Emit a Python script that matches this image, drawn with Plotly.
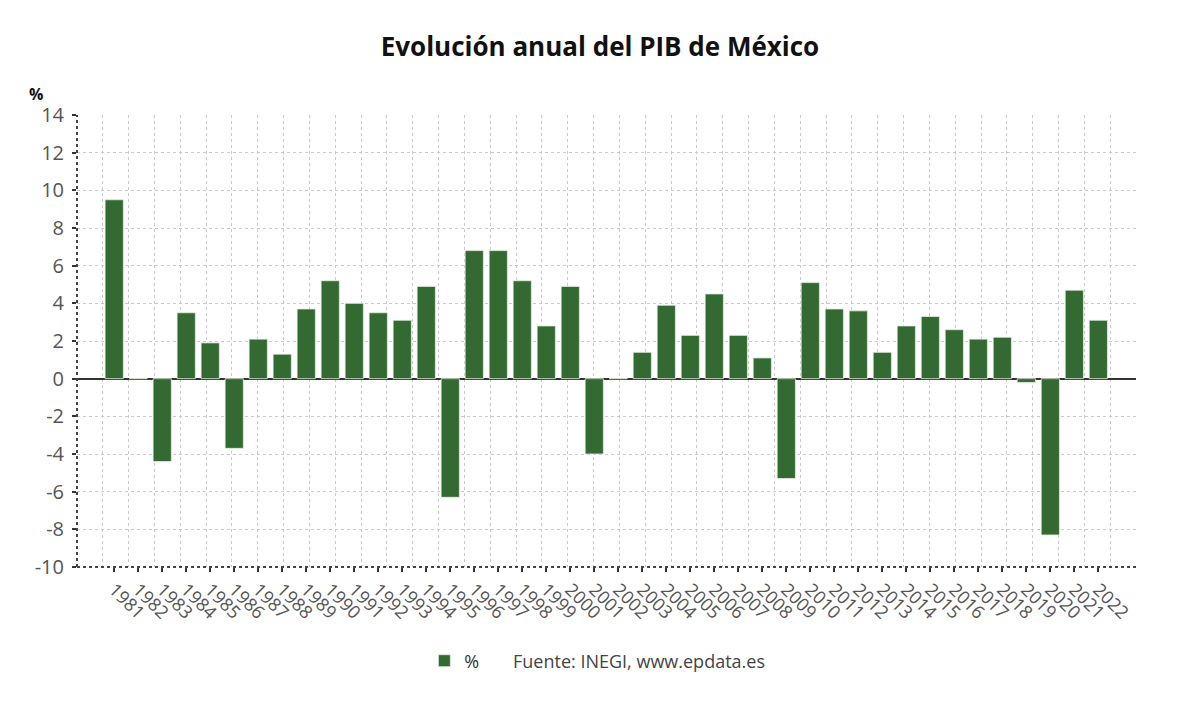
import plotly.graph_objects as go

years = [str(y) for y in range(1981, 2023)]
growth = [9.5, 0.0, -4.4, 3.5, 1.9, -3.7, 2.1, 1.3, 3.7, 5.2,
          4.0, 3.5, 3.1, 4.9, -6.3, 6.8, 6.8, 5.2, 2.8, 4.9,
          -4.0, 0.0, 1.4, 3.9, 2.3, 4.5, 2.3, 1.1, -5.3, 5.1,
          3.7, 3.6, 1.4, 2.8, 3.3, 2.6, 2.1, 2.2, -0.2, -8.3,
          4.7, 3.1]
y_ticks = list(range(-10, 15, 2))
y_ticktext = [str(v) for v in y_ticks]  # plain hyphen-minus like the reference

BAR = "#326a31"
GRID = "#cac7cd"
FONT = "Open Sans"

fig = go.Figure()
fig.add_trace(go.Bar(
    x=years, y=growth, name="%",
    marker=dict(color=BAR, line=dict(color="#e4efdf", width=0.8)),
    width=0.76,
))
# overlay axis that only carries the evenly spaced vertical grid
fig.add_trace(go.Scatter(x=[None], y=[None], xaxis="x2", yaxis="y",
                         showlegend=False, hoverinfo="skip"))

n = len(years)
fig.update_layout(
    width=1200, height=705,
    margin=dict(l=69, r=72, t=107, b=146),
    paper_bgcolor="white", plot_bgcolor="white",
    font=dict(family=FONT, color="#555555"),
    title=dict(text="<b>Evolución anual del PIB de México</b>",
               x=0.4933, xanchor="center", y=0.945, yanchor="middle",
               font=dict(family=FONT, size=26, color="#111111")),
    xaxis=dict(
        type="category",
        range=[-1.55, n + 0.57],
        showgrid=False,
        ticks="outside", ticklen=4, tickwidth=2, tickcolor="#333333",
        tickangle=45,
        tickfont=dict(family=FONT, size=18, color="#555555"),
        showline=False, zeroline=False,
    ),
    xaxis2=dict(
        overlaying="x", range=[0, 41], tickvals=list(range(0, 42)),
        showgrid=True, gridcolor=GRID, griddash="3px,3px", gridwidth=1,
        showticklabels=False, ticks="", showline=False, zeroline=False,
        side="bottom",
    ),
    yaxis=dict(
        range=[-10, 14], tickvals=y_ticks, ticktext=y_ticktext,
        showgrid=True, gridcolor=GRID, griddash="3px,3px", gridwidth=1,
        zeroline=True, zerolinecolor="#333333", zerolinewidth=1.6,
        ticks="outside", ticklen=4, tickwidth=2, tickcolor="#333333",
        ticklabelstandoff=4,
        tickfont=dict(family=FONT, size=20, color="#555555"),
        showline=False,
    ),
    showlegend=True,
    legend=dict(orientation="h", x=0.328, xanchor="left",
                y=-0.208, yanchor="middle", itemwidth=30,
                font=dict(family=FONT, size=18, color="#333333"),
                bgcolor="rgba(0,0,0,0)"),
)

# dotted axis lines (left and bottom)
fig.add_shape(type="line", xref="paper", yref="paper", x0=0, x1=0, y0=0, y1=1,
              line=dict(color="#444444", width=2, dash="dot"))
fig.add_shape(type="line", xref="paper", yref="paper", x0=0, x1=1, y0=0, y1=0,
              line=dict(color="#444444", width=2, dash="dot"))

fig.add_annotation(text="<b>%</b>", xref="paper", yref="paper",
                   x=(36 - 77) / 1059, y=(567 - 94) / 452,
                   xanchor="center", yanchor="middle", showarrow=False,
                   font=dict(family=FONT, size=16, color="#111111"))
fig.add_annotation(text="Fuente: INEGI, www.epdata.es", xref="paper", yref="paper",
                   x=(511 - 77) / 1059, y=(567 - 661) / 452,
                   xanchor="left", yanchor="middle", showarrow=False,
                   font=dict(family=FONT, size=18, color="#444444"))

fig.write_html("out.html")
